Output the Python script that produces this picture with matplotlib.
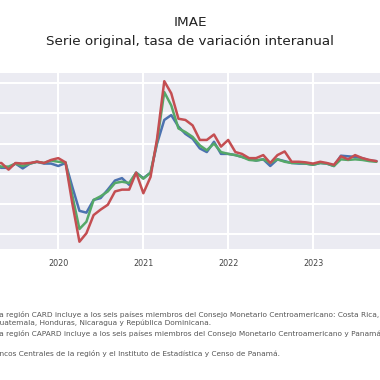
import pandas as pd
import numpy as np
import matplotlib
matplotlib.use("Agg")
import matplotlib.pyplot as plt
import matplotlib.dates as mdates
import seaborn as sns

# ---------- data (tasa de variación interanual, %) ----------
months = pd.date_range("2019-01-01", "2023-10-01", freq="MS")

serie_azul = [1.3, 1.5, 1.2, 1.3, 1.0, 1.0, 1.7, 0.9, 1.7, 2.0, 1.7, 1.7,
              1.3, 1.8, -2.1, -6.1, -6.4, -4.3, -4.0, -2.6, -1.1, -0.7, -1.8, 0.2,
              -0.7, 0.2, 5.0, 8.9, 9.7, 7.8, 6.6, 5.8, 4.2, 3.6, 5.3, 3.3,
              3.3, 3.1, 2.8, 2.5, 2.2, 2.4, 1.3, 2.4, 2.1, 1.8, 1.7, 1.7,
              1.5, 1.8, 1.7, 1.3, 3.0, 2.9, 2.8, 2.6, 2.2, 2.1]

serie_verde = [1.5, 1.5, 1.3, 1.5, 1.2, 1.2, 1.7, 1.3, 1.7, 2.0, 1.8, 2.2,
               2.0, 1.9, -3.5, -9.1, -7.9, -4.3, -3.7, -2.9, -1.5, -1.3, -1.5, 0.2,
               -0.8, 0.2, 5.3, 13.5, 11.3, 7.5, 6.9, 6.1, 4.7, 3.9, 5.0, 3.6,
               3.3, 3.1, 2.8, 2.3, 2.2, 2.4, 1.8, 2.4, 2.0, 1.8, 1.8, 1.7,
               1.5, 1.8, 1.7, 1.3, 2.4, 2.3, 2.4, 2.3, 2.1, 2.0]

serie_roja = [1.7, 1.8, 1.5, 1.7, 1.8, 0.7, 1.8, 1.7, 1.8, 2.0, 1.8, 2.3,
              2.6, 1.9, -4.8, -11.2, -9.8, -6.8, -5.9, -5.1, -2.9, -2.6, -2.6, 0.2,
              -3.2, -0.5, 5.8, 15.3, 13.3, 9.1, 8.9, 8.0, 5.6, 5.6, 6.5, 4.5,
              5.6, 3.6, 3.3, 2.6, 2.6, 3.1, 1.8, 3.1, 3.7, 2.0, 2.0, 1.9,
              1.7, 2.0, 1.8, 1.5, 2.9, 2.4, 3.1, 2.6, 2.3, 2.1]

nombres = ["CA", "CARD", "CAPARD"]
colores = ["#4C72B0", "#55A868", "#C44E52"]
anios = ["2020", "2021", "2022", "2023"]

titulo = "IMAE"
subtitulo = "Serie original, tasa de variación interanual"
nota1 = "La región CARD incluye a los seis países miembros del Consejo Monetario Centroamericano: Costa Rica, El Salvador,"
nota2 = "Guatemala, Honduras, Nicaragua y República Dominicana."
nota3 = "La región CAPARD incluye a los seis países miembros del Consejo Monetario Centroamericano y Panamá."
fuente = "Fuente: Bancos Centrales de la región y el Instituto de Estadística y Censo de Panamá."

# ---------- figure ----------
sns.set_style("darkgrid", {"axes.facecolor": "#EBEBF2"})
plt.rcParams["font.family"] = ["DejaVu Sans"]

W = H = 380
fig = plt.figure(figsize=(3.8, 3.8), dpi=100)
fig.patch.set_facecolor("white")

# axes is wider than the picture: the original is a crop of a bigger chart
ax = fig.add_axes([-30.5 / W, (H - 249) / H, 424.4 / W, 176.3 / H])

for vals, nombre, col in zip([serie_azul, serie_verde, serie_roja], nombres, colores):
    ax.plot(months, vals, color=col, lw=1.8, label=nombre)

ax.set_xlim(pd.Timestamp("2018-12-15"), pd.Timestamp("2023-12-15"))
ax.set_ylim(-12.4, 16.7)
ax.set_yticks([-10, -5, 0, 5, 10, 15])
ax.set_yticklabels([])  # value labels sit outside the cropped view
ax.set_xticks([pd.Timestamp(a + "-01-01") for a in anios])
ax.set_xticklabels(anios)
ax.tick_params(axis="x", labelsize=5.8, colors="#444444", pad=4)
ax.grid(color="white", lw=1.5)
for s in ax.spines.values():
    s.set_visible(False)

# titles
fig.text(190 / W, 1 - 22 / H, titulo, ha="center", va="center", fontsize=9.7, color="#222222")
fig.text(190 / W, 1 - 42 / H, subtitulo, ha="center", va="center", fontsize=9.7, color="#222222")

# notes
nota_kw = dict(va="center", fontsize=5.3, color="#555555")
fig.text(-5 / W, 1 - 315 / H, nota1, ha="left", **nota_kw)
fig.text(-6 / W, 1 - 322.5 / H, nota2, ha="left", **nota_kw)
fig.text(-5 / W, 1 - 333.5 / H, nota3, ha="left", **nota_kw)
fig.text(-40 / W, 1 - 353.5 / H, fuente, ha="left", **nota_kw)

fig.savefig("out.png", dpi=100)
plt.close(fig)
